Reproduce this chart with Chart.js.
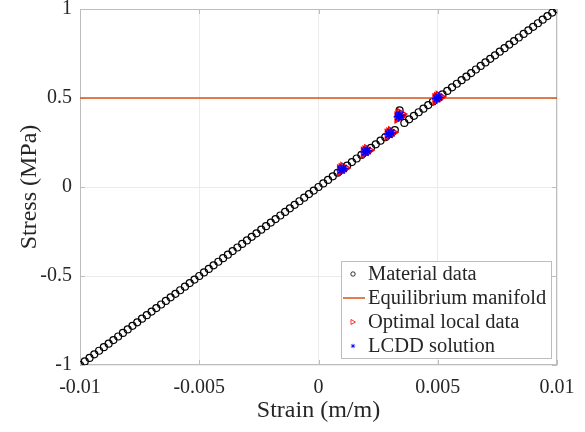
<!DOCTYPE html>
<html>
<head>
<meta charset="utf-8">
<script src="https://cdn.jsdelivr.net/npm/chart.js@4.4.0/dist/chart.umd.min.js"></script>
<style>
  html, body { margin: 0; padding: 0; background: #fff; }
  #wrap { width: 585px; height: 432px; }
</style>
</head>
<body>
<div id="wrap"><canvas id="chart" width="585" height="432"></canvas></div>
<script>
// material data set (one noisy point near 0.0034)
const materialStrain = [
  -0.0100, -0.0098, -0.0096, -0.0094, -0.0092, -0.0090, -0.0088, -0.0086, -0.0084, -0.0082,
  -0.0080, -0.0078, -0.0076, -0.0074, -0.0072, -0.0070, -0.0068, -0.0066, -0.0064, -0.0062,
  -0.0060, -0.0058, -0.0056, -0.0054, -0.0052, -0.0050, -0.0048, -0.0046, -0.0044, -0.0042,
  -0.0040, -0.0038, -0.0036, -0.0034, -0.0032, -0.0030, -0.0028, -0.0026, -0.0024, -0.0022,
  -0.0020, -0.0018, -0.0016, -0.0014, -0.0012, -0.0010, -0.0008, -0.0006, -0.0004, -0.0002,
  0.0000, 0.0002, 0.0004, 0.0006, 0.0008, 0.0010, 0.0012, 0.0014, 0.0016, 0.0018,
  0.0020, 0.0022, 0.0024, 0.0026, 0.0028, 0.0030, 0.0032, 0.0034, 0.0036, 0.0038,
  0.0040, 0.0042, 0.0044, 0.0046, 0.0048, 0.0050, 0.0052, 0.0054, 0.0056, 0.0058,
  0.0060, 0.0062, 0.0064, 0.0066, 0.0068, 0.0070, 0.0072, 0.0074, 0.0076, 0.0078,
  0.0080, 0.0082, 0.0084, 0.0086, 0.0088, 0.0090, 0.0092, 0.0094, 0.0096, 0.0098,
  0.0100
];
const materialStress = [
  -1.00, -0.98, -0.96, -0.94, -0.92, -0.90, -0.88, -0.86, -0.84, -0.82,
  -0.80, -0.78, -0.76, -0.74, -0.72, -0.70, -0.68, -0.66, -0.64, -0.62,
  -0.60, -0.58, -0.56, -0.54, -0.52, -0.50, -0.48, -0.46, -0.44, -0.42,
  -0.40, -0.38, -0.36, -0.34, -0.32, -0.30, -0.28, -0.26, -0.24, -0.22,
  -0.20, -0.18, -0.16, -0.14, -0.12, -0.10, -0.08, -0.06, -0.04, -0.02,
  0.00, 0.02, 0.04, 0.06, 0.08, 0.10, 0.12, 0.14, 0.16, 0.18,
  0.20, 0.22, 0.24, 0.26, 0.28, 0.30, 0.32, 0.43, 0.36, 0.38,
  0.40, 0.42, 0.44, 0.46, 0.48, 0.50, 0.52, 0.54, 0.56, 0.58,
  0.60, 0.62, 0.64, 0.66, 0.68, 0.70, 0.72, 0.74, 0.76, 0.78,
  0.80, 0.82, 0.84, 0.86, 0.88, 0.90, 0.92, 0.94, 0.96, 0.98,
  1.00
];

const equilibriumStrain = [-0.01, 0.01];
const equilibriumStress = [0.5, 0.5];

// overlapping markers from several iterations
const localStrain = [0.00093, 0.001, 0.00107, 0.00193, 0.002, 0.00207, 0.00293, 0.003, 0.00307, 0.00334, 0.0034, 0.00344, 0.00493, 0.005, 0.00507];
const localStress = [0.093, 0.1, 0.107, 0.193, 0.2, 0.207, 0.293, 0.3, 0.307, 0.39, 0.40, 0.41, 0.493, 0.5, 0.507];

const lcddStrain = [0.00096, 0.00104, 0.00196, 0.00204, 0.00296, 0.00304, 0.00336, 0.00341, 0.00496, 0.00504];
const lcddStress = [0.096, 0.104, 0.196, 0.204, 0.296, 0.304, 0.395, 0.403, 0.496, 0.504];

const xTicks = [-0.01, -0.005, 0, 0.005, 0.01];
const yTicks = [-1, -0.5, 0, 0.5, 1];
const legendLabels = ['Material data', 'Equilibrium manifold', 'Optimal local data', 'LCDD solution'];

const toPoints = (xs, ys) => xs.map((x, i) => ({ x: x, y: ys[i] }));

const textColor = '#262626';
const boxColor = '#bdbdbd';
const gridColor = '#ebebeb';
const orange = '#D95319';
const serif = "'Liberation Serif', 'Times New Roman', serif";

// draws the axes box, inward ticks and the legend inside the plot
const boxPlugin = {
  id: 'boxPlugin',
  beforeDatasetsDraw(chart) {
    const { ctx, chartArea: a, scales } = chart;
    ctx.save();
    ctx.strokeStyle = boxColor;
    ctx.lineWidth = 1;
    ctx.strokeRect(a.left + 0.5, a.top + 0.5, a.right - a.left - 1, a.bottom - a.top - 1);
    ctx.beginPath();
    xTicks.forEach(v => {
      const px = Math.round(scales.x.getPixelForValue(v)) + 0.5;
      ctx.moveTo(px, a.bottom); ctx.lineTo(px, a.bottom - 5);
      ctx.moveTo(px, a.top); ctx.lineTo(px, a.top + 5);
    });
    yTicks.forEach(v => {
      const py = Math.round(scales.y.getPixelForValue(v)) + 0.5;
      ctx.moveTo(a.left, py); ctx.lineTo(a.left + 5, py);
      ctx.moveTo(a.right, py); ctx.lineTo(a.right - 5, py);
    });
    ctx.stroke();
    ctx.restore();
  },
  afterDraw(chart) {
    const { ctx } = chart;
    const left = 341, top = 261, w = 210, h = 97;
    ctx.save();
    ctx.fillStyle = '#fff';
    ctx.fillRect(left, top, w, h);
    ctx.strokeStyle = boxColor;
    ctx.lineWidth = 1;
    ctx.strokeRect(left + 0.5, top + 0.5, w, h);

    const rowY = [274, 298, 322, 346];
    const mx = 353;
    ctx.font = '20.5px ' + serif;
    ctx.textBaseline = 'middle';
    ctx.fillStyle = textColor;
    legendLabels.forEach((label, i) => ctx.fillText(label, 368, rowY[i] + 1));

    // material: small circle
    ctx.strokeStyle = '#000';
    ctx.lineWidth = 0.8;
    ctx.beginPath();
    ctx.arc(mx, rowY[0], 2.2, 0, Math.PI * 2);
    ctx.stroke();
    // equilibrium: line
    ctx.strokeStyle = orange;
    ctx.lineWidth = 1.5;
    ctx.beginPath();
    ctx.moveTo(343, rowY[1]); ctx.lineTo(365, rowY[1]);
    ctx.stroke();
    // local data: right triangle
    ctx.strokeStyle = '#ff0000';
    ctx.lineWidth = 0.8;
    ctx.beginPath();
    ctx.moveTo(mx - 2, rowY[2] - 2.5); ctx.lineTo(mx + 2.5, rowY[2]); ctx.lineTo(mx - 2, rowY[2] + 2.5);
    ctx.closePath();
    ctx.stroke();
    // lcdd: star
    ctx.strokeStyle = '#0000ff';
    ctx.beginPath();
    const r = 2.2;
    ctx.moveTo(mx - r, rowY[3]); ctx.lineTo(mx + r, rowY[3]);
    ctx.moveTo(mx, rowY[3] - r); ctx.lineTo(mx, rowY[3] + r);
    ctx.moveTo(mx - r * 0.7, rowY[3] - r * 0.7); ctx.lineTo(mx + r * 0.7, rowY[3] + r * 0.7);
    ctx.moveTo(mx - r * 0.7, rowY[3] + r * 0.7); ctx.lineTo(mx + r * 0.7, rowY[3] - r * 0.7);
    ctx.stroke();
    ctx.restore();
  }
};

new Chart(document.getElementById('chart').getContext('2d'), {
  type: 'scatter',
  data: {
    datasets: [
      {
        label: legendLabels[0],
        data: toPoints(materialStrain, materialStress),
        pointStyle: 'circle',
        pointRadius: 3.5,
        borderColor: '#000',
        backgroundColor: 'rgba(0,0,0,0)',
        borderWidth: 1.2,
        order: 4
      },
      {
        label: legendLabels[1],
        data: toPoints(equilibriumStrain, equilibriumStress),
        showLine: true,
        pointRadius: 0,
        borderColor: orange,
        borderWidth: 1.5,
        order: 3
      },
      {
        label: legendLabels[2],
        data: toPoints(localStrain, localStress),
        pointStyle: 'triangle',
        rotation: 90,
        pointRadius: 6,
        borderColor: '#ff0000',
        backgroundColor: 'rgba(0,0,0,0)',
        borderWidth: 1.5,
        order: 2
      },
      {
        label: legendLabels[3],
        data: toPoints(lcddStrain, lcddStress),
        pointStyle: 'star',
        pointRadius: 5,
        borderColor: '#0000ff',
        backgroundColor: 'rgba(0,0,0,0)',
        borderWidth: 1.5,
        order: 1
      }
    ]
  },
  options: {
    responsive: false,
    animation: false,
    layout: { padding: { top: 9, right: 28, left: 0, bottom: 0 } },
    plugins: {
      legend: { display: false },
      tooltip: { enabled: false }
    },
    scales: {
      x: {
        type: 'linear',
        min: -0.01,
        max: 0.01,
        afterBuildTicks: s => { s.ticks = xTicks.map(v => ({ value: v })); },
        afterFit: s => { s.height = 67; s.paddingLeft = 0; s.paddingRight = 0; },
        ticks: {
          color: textColor,
          font: { family: serif, size: 20 },
          padding: 11,
          maxRotation: 0,
          callback: v => String(v)
        },
        grid: { color: gridColor, drawTicks: false },
        border: { display: false },
        title: {
          display: true,
          text: 'Strain (m/m)',
          color: textColor,
          font: { family: serif, size: 24 },
          padding: { top: 0, bottom: 7 }
        }
      },
      y: {
        type: 'linear',
        min: -1,
        max: 1,
        afterBuildTicks: s => { s.ticks = yTicks.map(v => ({ value: v })); },
        afterFit: s => { s.width = 80; s.paddingTop = 0; s.paddingBottom = 0; },
        ticks: {
          color: textColor,
          font: { family: serif, size: 20 },
          padding: 8,
          callback: v => String(v)
        },
        grid: { color: gridColor, drawTicks: false },
        border: { display: false },
        title: {
          display: true,
          text: 'Stress (MPa)',
          color: textColor,
          font: { family: serif, size: 24 },
          padding: { top: 15, bottom: 0 }
        }
      }
    }
  },
  plugins: [boxPlugin]
});
</script>
</body>
</html>
